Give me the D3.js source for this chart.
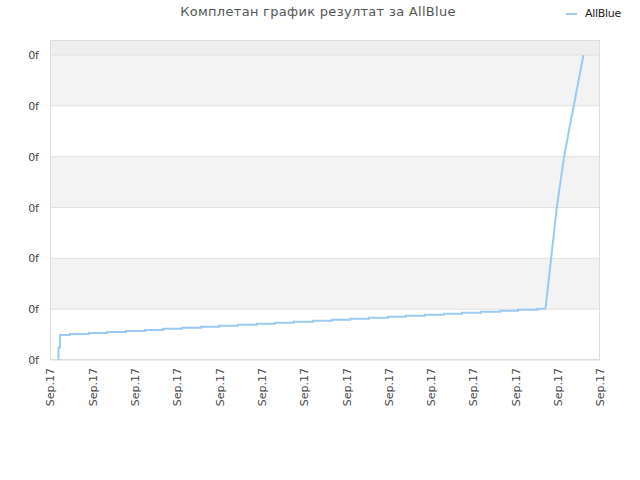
<!DOCTYPE html>
<html>
<head>
<meta charset="utf-8">
<script src="https://cdn.jsdelivr.net/npm/d3@7"></script>
<style>
  body { margin: 0; background: #fff; }
  text { font-family: 'DejaVu Sans', sans-serif; }
</style>
</head>
<body>
<svg id="chart" width="640" height="480"></svg>
<script>
const width = 640
const height = 480
const margin = { top: 40, right: 40, bottom: 120, left: 50 }

const title = 'Комплетан график резултат за AllBlue'
const seriesName = 'AllBlue'

// x ticks (all labelled the same in the source)
const xTicks = [0, 10, 20, 30, 40, 50, 60, 70, 80, 90, 100, 110, 120, 130]
const xTickLabel = 'Sep.17'
const yTicks = [0, 50, 100, 150, 200, 250, 300]
const yTickLabel = '0f'

// slow staircase part
const stairX = [2.0, 2.0, 2.36, 4.73, 9.22, 13.47, 17.96, 22.45, 26.71, 31.2, 35.69,
  39.95, 44.44, 48.93, 53.18, 57.67, 62.16, 66.65, 70.91, 75.4, 79.89, 84.15,
  88.64, 93.13, 97.38, 101.87, 106.36, 110.62, 115.11, 117.12]
const stairY = [0, 12, 24.6, 25.6, 26.6, 27.5, 28.5, 29.5, 30.8, 31.8, 32.8,
  33.7, 34.7, 35.7, 36.7, 37.7, 38.7, 39.6, 40.6, 41.6, 42.6, 43.6,
  44.5, 45.5, 46.5, 47.5, 48.5, 49.5, 50.5, 50.5]
// steep final climb
const rampX = [117.12, 119.77, 121.5, 122.68, 126.1]
const rampY = [50.5, 149.5, 199.7, 226, 300]

const svg = d3.select('#chart')

const x = d3.scaleLinear().domain([0, 130]).range([margin.left, width - margin.right])
const y = d3.scaleLinear().domain([0, 300]).range([height - margin.bottom, 55])

/* background bands: top strip, then alternating from the top */
svg.append('rect')
  .attr('x', margin.left)
  .attr('y', margin.top)
  .attr('width', width - margin.left - margin.right)
  .attr('height', y(300) - margin.top)
  .attr('fill', '#eeeeee')

const bands = d3.range(0, 6).map((i) => [yTicks[i], yTicks[i + 1]])
svg.append('g')
  .selectAll('rect')
  .data(bands)
  .join('rect')
  .attr('x', margin.left)
  .attr('width', width - margin.left - margin.right)
  .attr('y', (d) => y(d[1]))
  .attr('height', (d) => y(d[0]) - y(d[1]))
  .attr('fill', (d, i) => (i % 2 === 1 ? '#f3f3f3' : '#ffffff'))

/* grid */
svg.append('g')
  .selectAll('line')
  .data(yTicks)
  .join('line')
  .attr('x1', margin.left)
  .attr('x2', width - margin.right)
  .attr('y1', (d) => y(d))
  .attr('y2', (d) => y(d))
  .attr('stroke', '#e0e0e0')

svg.append('rect')
  .attr('x', margin.left + 0.5)
  .attr('y', margin.top + 0.5)
  .attr('width', width - margin.left - margin.right - 1)
  .attr('height', height - margin.bottom - margin.top - 1)
  .attr('fill', 'none')
  .attr('stroke', '#dddddd')

/* axes */
const yAxis = svg.append('g')
  .attr('transform', `translate(${margin.left}, 0)`)
  .call(d3.axisLeft(y).tickValues(yTicks).tickSize(0).tickPadding(11).tickFormat(() => yTickLabel))
yAxis.select('.domain').remove()
yAxis.selectAll('text').attr('fill', '#444').style('font-size', '11px')

const xAxis = svg.append('g')
  .attr('transform', `translate(0, ${height - margin.bottom})`)
  .call(d3.axisBottom(x).tickValues(xTicks).tickSize(0).tickFormat(() => xTickLabel))
xAxis.select('.domain').remove()
xAxis.selectAll('text')
  .attr('fill', '#444')
  .style('font-size', '11px')
  .attr('transform', 'rotate(-90)')
  .attr('text-anchor', 'end')
  .attr('x', -8)
  .attr('y', 0)
  .attr('dy', '0.35em')

/* series */
const lineColor = '#9cc9f4'
svg.append('path')
  .datum(stairX.map((d, i) => [d, stairY[i]]))
  .attr('fill', 'none')
  .attr('stroke', lineColor)
  .attr('stroke-width', 2)
  .attr('d', d3.line().curve(d3.curveStepAfter).x((d) => x(d[0])).y((d) => y(d[1])))

svg.append('path')
  .datum(rampX.map((d, i) => [d, rampY[i]]))
  .attr('fill', 'none')
  .attr('stroke', lineColor)
  .attr('stroke-width', 2)
  .attr('d', d3.line().x((d) => x(d[0])).y((d) => y(d[1])))

/* title */
svg.append('text')
  .attr('x', 318)
  .attr('y', 16)
  .attr('text-anchor', 'middle')
  .attr('fill', '#555')
  .style('font-size', '13px')
  .style('letter-spacing', '0.3px')
  .text(title)

/* legend */
svg.append('line')
  .attr('x1', 566).attr('x2', 577)
  .attr('y1', 14).attr('y2', 14)
  .attr('stroke', lineColor)
  .attr('stroke-width', 2)
svg.append('text')
  .attr('x', 585)
  .attr('y', 17)
  .attr('fill', '#222')
  .style('font-size', '11px')
  .style('letter-spacing', '-0.3px')
  .text(seriesName)
</script>
</body>
</html>
